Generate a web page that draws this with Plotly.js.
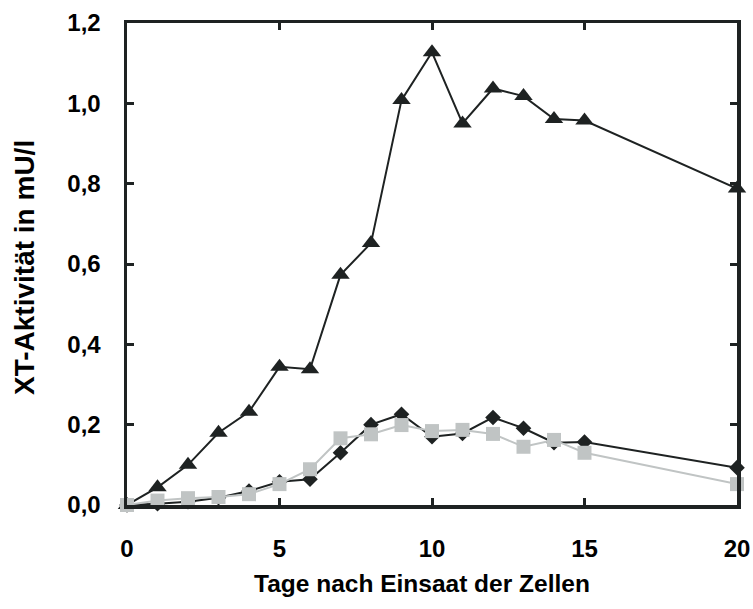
<!DOCTYPE html>
<html>
<head>
<meta charset="utf-8">
<script src="https://cdn.plot.ly/plotly-3.0.1.min.js"></script>
<style>html,body{margin:0;padding:0;background:#fff;}#chart{width:753px;height:609px;}</style>
</head>
<body>
<div id="chart"></div>
<script>
const days = [0, 1, 2, 3, 4, 5, 6, 7, 8, 9, 10, 11, 12, 13, 14, 15, 20];
const seriesTriangle = [0.0, 0.044, 0.10, 0.18, 0.232, 0.344, 0.338, 0.573, 0.652, 1.008, 1.127, 0.950, 1.037, 1.018, 0.961, 0.957, 0.788];
const seriesDiamond = [0.0, 0.003, 0.008, 0.018, 0.035, 0.058, 0.064, 0.130, 0.200, 0.226, 0.170, 0.178, 0.218, 0.191, 0.155, 0.157, 0.093];
const seriesSquare = [0.0, 0.011, 0.017, 0.020, 0.027, 0.052, 0.089, 0.166, 0.176, 0.199, 0.184, 0.187, 0.177, 0.145, 0.162, 0.130, 0.052];
const xTickVals = [0, 5, 10, 15, 20];
const yTickVals = [0, 0.2, 0.4, 0.6, 0.8, 1.0, 1.2];
const xTitle = 'Tage nach Einsaat der Zellen';
const yTitle = 'XT-Aktivität in mU/l';

const black = '#1e2222';
const gray = '#c0c4c4';

const traces = [
  {x: days, y: seriesTriangle, mode: 'lines+markers', type: 'scatter', cliponaxis: false,
   line: {color: black, width: 2}, marker: {symbol: 'triangle-up', size: 16, color: black}},
  {x: days, y: seriesDiamond, mode: 'lines+markers', type: 'scatter', cliponaxis: false,
   line: {color: black, width: 2}, marker: {symbol: 'diamond', size: 12, color: black}},
  {x: days, y: seriesSquare, mode: 'lines+markers', type: 'scatter', cliponaxis: false,
   line: {color: gray, width: 2}, marker: {symbol: 'square', size: 14, color: gray}}
];

const fontFam = '"Liberation Sans", Arial, sans-serif';
const layout = {
  width: 753, height: 609,
  margin: {l: 127, r: 16, t: 23, b: 104},
  paper_bgcolor: '#ffffff', plot_bgcolor: '#ffffff',
  separators: ',.',
  showlegend: false,
  font: {family: fontFam, color: '#000000'},
  xaxis: {
    range: [0, 20], tickvals: xTickVals, ticktext: xTickVals.map(String),
    showgrid: false, zeroline: false, showline: true, linecolor: black, linewidth: 3.5,
    mirror: 'allticks', ticks: 'inside', ticklen: 7, tickwidth: 3, tickcolor: black,
    tickfont: {family: fontFam, size: 24, color: '#000', weight: 'bold'},
    ticklabelstandoff: 20
  },
  yaxis: {
    range: [0, 1.2], tickvals: yTickVals, tickformat: '.1f',
    showgrid: false, zeroline: false, showline: true, linecolor: black, linewidth: 3.5,
    mirror: 'allticks', ticks: 'inside', ticklen: 7, tickwidth: 3, tickcolor: black,
    tickfont: {family: fontFam, size: 24, color: '#000', weight: 'bold'},
    ticklabelstandoff: 18
  },
  annotations: [
    {text: '<b>' + xTitle + '</b>', xref: 'paper', yref: 'paper', x: 0.4836, y: -0.162,
     xanchor: 'center', yanchor: 'middle', showarrow: false,
     font: {family: fontFam, size: 24.5, color: '#000'}},
    {text: '<b>' + yTitle + '</b>', xref: 'paper', yref: 'paper', x: -0.167, y: 0.492,
     xanchor: 'center', yanchor: 'middle', textangle: -90, showarrow: false,
     font: {family: fontFam, size: 28, color: '#000'}}
  ]
};

Plotly.newPlot('chart', traces, layout, {displayModeBar: false, staticPlot: true});
</script>
</body>
</html>
